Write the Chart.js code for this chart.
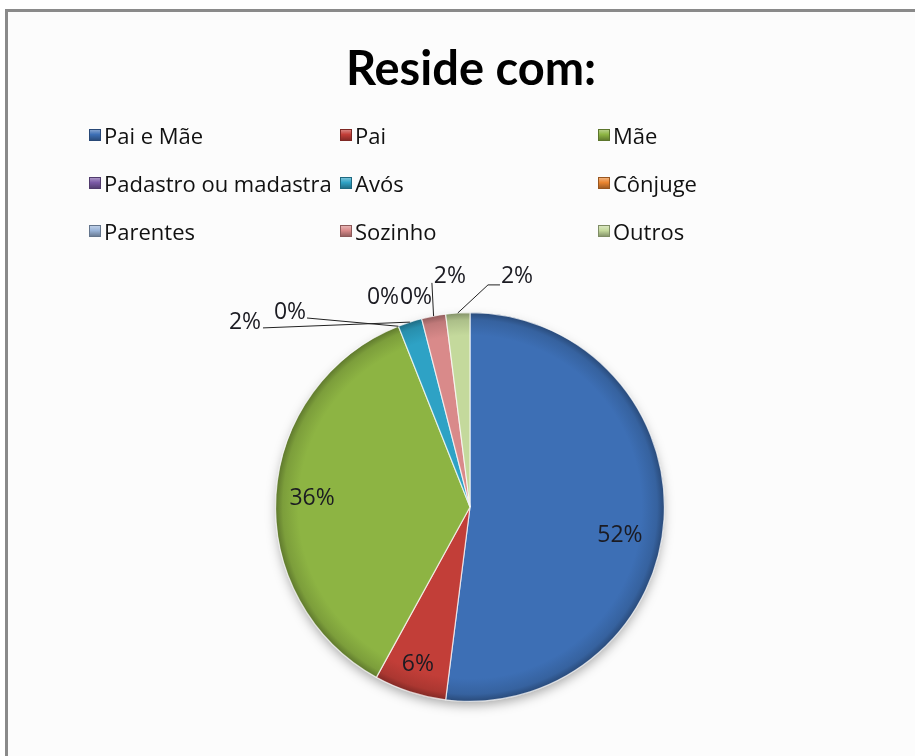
<!DOCTYPE html>
<html>
<head>
<meta charset="utf-8">
<title>Reside com:</title>
<script src="https://cdn.jsdelivr.net/npm/chart.js@4.4.0/dist/chart.umd.min.js"></script>
<style>
  html,body{margin:0;padding:0;background:#fff;}
  #page{position:relative;width:915px;height:756px;overflow:hidden;}
  #frame{position:absolute;left:5px;top:9px;right:-10px;bottom:-10px;border-top:3px solid #8a8a8a;border-left:3px solid #8a8a8a;background:#fcfcfc;}
  #pie{position:absolute;left:0;top:0;}
  #title{position:absolute;left:0;top:44px;width:942px;text-align:center;font:bold 47px Lato,sans-serif;line-height:47px;color:#000;}
  #legend{position:absolute;left:89px;top:111px;display:grid;grid-template-columns:251px 258px auto;grid-auto-rows:48px;}
  #legend .item{font:22px "Open Sans",sans-serif;line-height:26px;color:#111;white-space:nowrap;display:flex;align-items:center;}
  #legend .box{display:inline-block;width:12px;height:12px;margin-right:3px;box-sizing:border-box;}
</style>
</head>
<body>
<div id="page">
  <div id="frame"></div>
  <canvas id="pie" width="915" height="756"></canvas>
  <div id="title">Reside com:</div>
  <div id="legend"></div>
</div>
<script>
var categories=['Pai e Mãe','Pai','Mãe','Padastro ou madastra','Avós','Cônjuge','Parentes','Sozinho','Outros'];
var percentages=[52,6,36,0,2,0,0,2,2];
var sliceColors=['#3d6fb5','#c23e38','#8db443','#7b5ba6','#2ea2c5','#ea8530','#9ab4d8','#d98a8a','#c4d99c'];

// where each percent label sits, in radius units from the pie centre
var labelAt=[[0.769,0.144],[-0.267,0.810],[-0.810,-0.046],[-0.923,-1.0],[-1.154,-0.944],[-0.446,-1.077],[-0.277,-1.077],[-0.103,-1.18],[0.241,-1.18]];
// leader line points (px from label centre) before reaching the slice edge
var leaders=[null,null,null,[[17,6]],[[18,5]],null,null,[[-18,6]],[[-17,8],[-29,8]]];

function shade(hex,f){
  var n=parseInt(hex.slice(1),16);
  var r=(n>>16)&255,g=(n>>8)&255,b=n&255;
  function c(v){return Math.max(0,Math.min(255,Math.round(f<0?v*(1+f):v+(255-v)*f)));}
  return 'rgb('+c(r)+','+c(g)+','+c(b)+')';
}

function pieGeom(chart){
  var a=chart.chartArea;
  return {x:(a.left+a.right)/2,y:(a.top+a.bottom)/2,r:Math.min(a.right-a.left,a.bottom-a.top)/2};
}

var pieShadow={
  id:'pieShadow',
  beforeDatasetsDraw:function(chart){
    var c=chart.ctx,p=pieGeom(chart);
    c.save();
    c.shadowColor='rgba(0,0,0,0.35)';
    c.shadowBlur=12;
    c.shadowOffsetY=5;
    c.fillStyle='#ccc';
    c.beginPath();
    c.arc(p.x,p.y,p.r-2,0,Math.PI*2);
    c.fill();
    c.restore();
  }
};

var pctLabels={
  id:'pctLabels',
  afterDatasetsDraw:function(chart){
    var c=chart.ctx,p=pieGeom(chart);
    var meta=chart.getDatasetMeta(0);
    var data=chart.data.datasets[0].data;
    var total=data.reduce(function(s,v){return s+v;},0);
    c.save();
    c.font='23px "Open Sans", sans-serif';
    c.fillStyle='#1b1b22';
    c.textAlign='center';
    c.textBaseline='middle';
    meta.data.forEach(function(arc,i){
      var lx=p.x+labelAt[i][0]*p.r,ly=p.y+labelAt[i][1]*p.r;
      if(leaders[i]){
        var mid=(arc.startAngle+arc.endAngle)/2;
        c.strokeStyle='#222';
        c.lineWidth=1;
        c.beginPath();
        leaders[i].forEach(function(pt,k){
          if(k==0) c.moveTo(lx+pt[0],ly+pt[1]);
          else c.lineTo(lx+pt[0],ly+pt[1]);
        });
        c.lineTo(arc.x+Math.cos(mid)*arc.outerRadius,arc.y+Math.sin(mid)*arc.outerRadius);
        c.stroke();
      }
      c.fillText(Math.round(data[i]/total*100)+'%',lx,ly);
    });
    c.restore();
  }
};

var pieCanvas=document.getElementById('pie').getContext('2d');
var chart=new Chart(pieCanvas,{
  type:'pie',
  data:{
    labels:categories,
    datasets:[{
      data:percentages,
      backgroundColor:function(ctx){
        var base=sliceColors[ctx.dataIndex];
        var chart=ctx.chart;
        if(!chart.chartArea) return base;
        var p=pieGeom(chart);
        var g=chart.ctx.createRadialGradient(p.x,p.y,0,p.x,p.y,p.r);
        g.addColorStop(0,base);
        g.addColorStop(0.88,base);
        g.addColorStop(0.96,shade(base,-0.12));
        g.addColorStop(1,shade(base,-0.35));
        return g;
      },
      borderColor:'rgba(255,255,255,0.7)',
      borderWidth:function(ctx){return percentages[ctx.dataIndex]>0?1.2:0;}
    }]
  },
  options:{
    responsive:false,
    animation:false,
    rotation:0,
    layout:{padding:{left:275,right:250,top:312,bottom:54}},
    plugins:{legend:{display:false},tooltip:{enabled:false},title:{display:false}}
  },
  plugins:[pieShadow,pctLabels]
});

// legend in three columns, built from the chart's own labels and colours
var legendBox=document.getElementById('legend');
chart.data.labels.forEach(function(name,i){
  var base=sliceColors[i];
  var item=document.createElement('div');
  item.className='item';
  var box=document.createElement('span');
  box.className='box';
  box.style.background='linear-gradient(to bottom,'+shade(base,0.35)+','+base+' 45%,'+shade(base,-0.3)+')';
  box.style.border='1px solid '+shade(base,-0.35);
  item.appendChild(box);
  item.appendChild(document.createTextNode(name));
  legendBox.appendChild(item);
});
</script>
</body>
</html>
